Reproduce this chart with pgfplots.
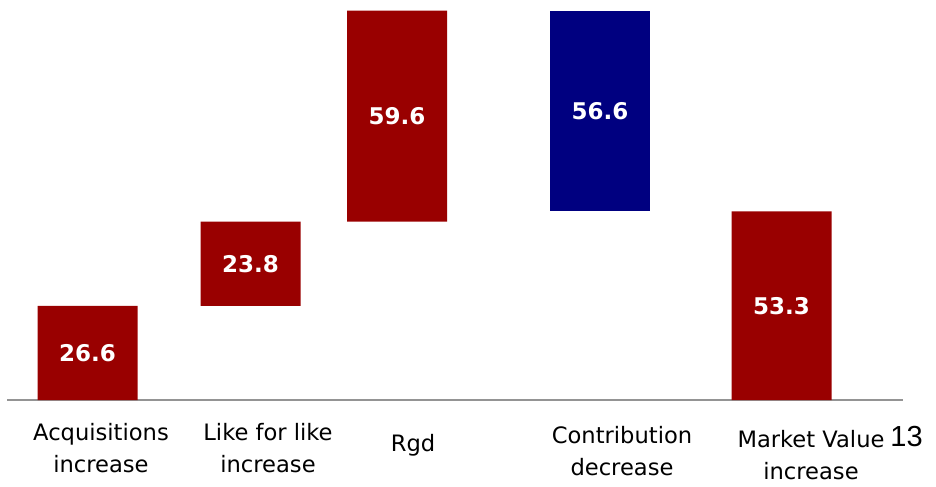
\documentclass[border=0pt]{standalone}
\usepackage{pgfplots}
\pgfplotsset{compat=1.18}
\usepackage{fontspec}
\setmainfont{DejaVu Sans}
\newfontfamily\pagefont{Liberation Sans}
\definecolor{barred}{RGB}{153,0,0}
\definecolor{barblue}{RGB}{0,0,128}

% shared geometry for the bar axis and the value-label overlay
\pgfplotsset{
  bridge/.style={
    scale only axis, width=448pt, height=200pt,
    xmin=7, xmax=903, ymin=0, ymax=113,
    enlargelimits=false, clip=false,
  }
}

\begin{document}
\begin{tikzpicture}
\path (-3.5pt,-42.5pt) rectangle (464.5pt,200pt);
\begin{axis}[bridge, ybar stacked, bar width=50pt,
  axis x line=bottom, axis y line=none,
  axis line style={draw=black!42, line width=1pt, -},
  xtick={101,268,413,622,811},
  xticklabels={Acquisitions\\increase, Like for like\\increase, \rule{0pt}{14pt}Rgd,
    \rule{0pt}{10pt}Contribution\\decrease, \rule{0pt}{12pt}Market Value\\increase},
  xtick style={draw=none}, major tick length=0pt,
  xticklabel style={font=\fontsize{11.3}{16}\selectfont, align=center, anchor=north, yshift=-8pt},
  ytick=\empty]
% invisible base of each floating bar
\addplot[fill=none, draw=none] coordinates {(87.5,0) (250.5,26.6) (397,50.4) (600,53.4) (781.5,0)};
% increases and the closing total
\addplot[fill=barred, draw=none] coordinates {(87.5,26.6) (250.5,23.8) (397,59.6) (600,0) (781.5,53.3)};
% decrease
\addplot[fill=barblue, draw=none] coordinates {(87.5,0) (250.5,0) (397,0) (600,56.6) (781.5,0)};
\node[anchor=base west, inner sep=0pt, font=\pagefont\fontsize{14.5}{14.5}\selectfont] at (axis cs:890,-13) {13};
\end{axis}
\begin{axis}[bridge, axis lines=none, xtick=\empty, ytick=\empty]
\addplot[draw=none, mark=none, nodes near coords, point meta=explicit symbolic,
  every node near coord/.append style={anchor=center, text=white,
    font=\bfseries\fontsize{11.5}{12}\selectfont}]
  coordinates {(87.5,13.3)[26.6] (250.5,38.5)[23.8] (397,80.2)[59.6] (600,81.7)[56.6] (781.5,26.65)[53.3]};
\end{axis}
\end{tikzpicture}
\end{document}
